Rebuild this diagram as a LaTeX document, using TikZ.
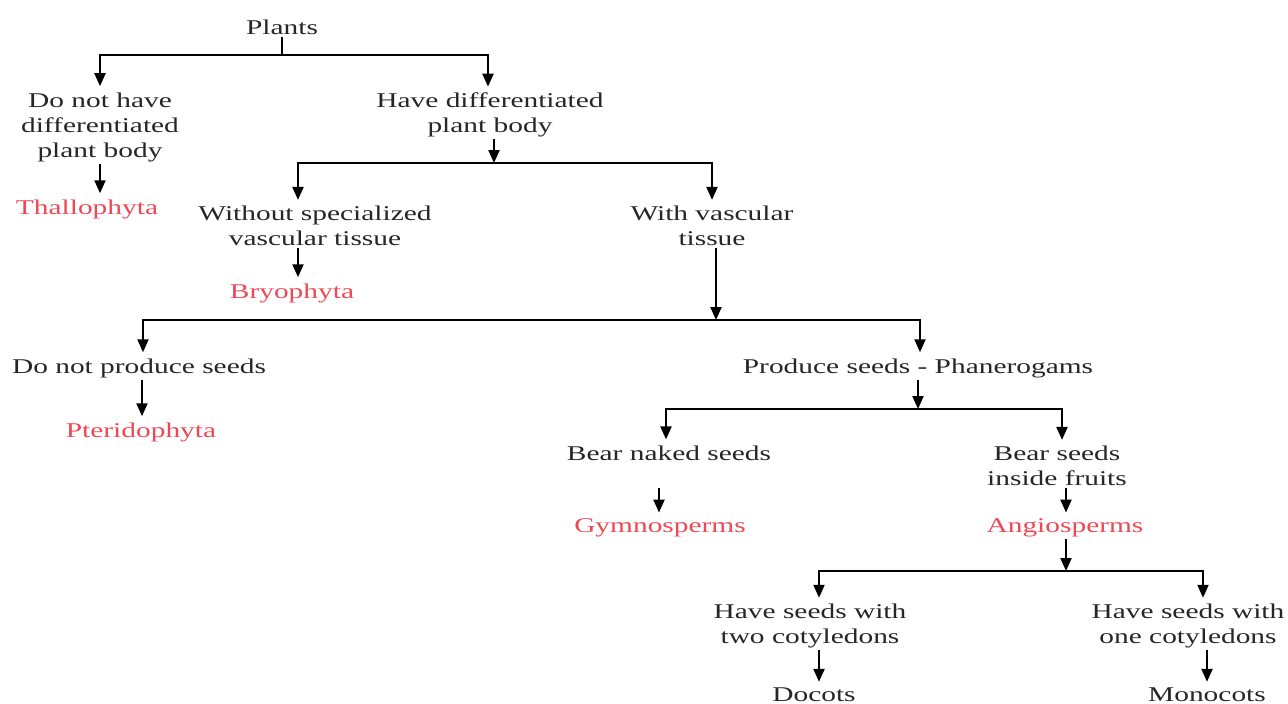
\documentclass[tikz,border=0pt]{standalone}
\usepackage{fontspec}
\setmainfont[FakeStretch=1.4]{Liberation Serif}
\usepackage{xcolor}
\usetikzlibrary{arrows.meta}
\definecolor{taxred}{RGB}{238,72,84}

\begin{document}
\begin{tikzpicture}[
    x=1pt, y=-1pt,
    >={Triangle[length=13pt,width=11pt]},
    font=\fontsize{21}{25}\selectfont,
    txt/.style={align=center, inner sep=2pt, text=black!85},
    taxon/.style={txt, text=taxred},
    trunk/.style={line width=2.2pt},
    drop/.style={trunk, ->},
    flow/.style={drop, shorten >=4pt},
]
\useasboundingbox (0,0) rectangle (1288,704);

% --- questions and groups ---
\node[txt] (plants) at (282,27) {Plants};
\node[txt] (nodiff) at (100,127) {Do not have\\differentiated\\plant body};
\node[txt] (diff) at (490,115) {Have differentiated\\plant body};
\node[taxon] (thallo) at (87,209) {Thallophyta};
\node[txt] (nospec) at (315,226) {Without specialized\\vascular tissue};
\node[txt] (vasc) at (712,226) {With vascular\\tissue};
\node[taxon] (bryo) at (292,293) {Bryophyta};
\node[txt] (noseed) at (139,368) {Do not produce seeds};
\node[txt] (seed) at (918,368) {Produce seeds - Phanerogams};
\node[taxon] (pterido) at (141,432) {Pteridophyta};
\node[txt] (naked) at (669,453) {Bear naked seeds};
\node[txt] (fruits) at (1057,466) {Bear seeds\\inside fruits};
\node[taxon] (gymno) at (660,528) {Gymnosperms};
\node[taxon] (angio) at (1065,528) {Angiosperms};
\node[txt] (two) at (810,626) {Have seeds with\\two cotyledons};
\node[txt] (one) at (1188,626) {Have seeds with\\one cotyledons};
\node[txt] (dicot) at (814,695) {Docots};
\node[txt] (monocot) at (1207,695) {Monocots};

% --- junctions of the branch lines ---
\coordinate (j1) at (282,55);
\coordinate (j2) at (494,163);
\coordinate (j3) at (716,320);
\coordinate (j4) at (918,409);
\coordinate (j5) at (1066,571);

% --- branches ---
\draw[trunk] (plants.south) -- (j1);
\draw[flow] (j1) -| (nodiff.north);
\draw[flow] (j1) -| ([xshift=-2pt]diff.north);

\draw[drop] (diff.south -| j2) -- (j2);
\draw[flow] (j2) -| ([xshift=-17pt]nospec.north);
\draw[flow] (j2) -| (vasc.north);

\draw[drop] (vasc.south -| j3) -- (j3);
\draw[flow] (j3) -| ([xshift=4pt]noseed.north);
\draw[flow] (j3) -| ([xshift=2pt]seed.north);

\draw[drop] (seed.south -| j4) -- (j4);
\draw[flow] (j4) -| ([xshift=-3pt]naked.north);
\draw[flow] (j4) -| ([xshift=5pt]fruits.north);

\draw[drop] (angio.south -| j5) -- (j5);
\draw[flow] (j5) -| ([xshift=9pt]two.north);
\draw[flow] (j5) -| ([xshift=15pt]one.north);

% --- down to the groups ---
\draw[flow] (nodiff.south) -- (nodiff.south |- thallo.north);
\draw[flow] ([xshift=-17pt]nospec.south) -- ([xshift=-17pt]nospec.south |- bryo.north);
\draw[flow] ([xshift=3pt]noseed.south) -- ([xshift=3pt]noseed.south |- pterido.north);
\draw[flow] ([xshift=-10pt]naked.south |- fruits.south) -- ([xshift=-10pt]naked.south |- gymno.north);
\draw[flow] ([xshift=9pt]fruits.south) -- ([xshift=9pt]fruits.south |- angio.north);
\draw[flow] ([xshift=9pt]two.south) -- ([xshift=9pt]two.south |- dicot.north);
\draw[flow] ([xshift=19pt]one.south) -- ([xshift=19pt]one.south |- monocot.north);
\end{tikzpicture}
\end{document}
